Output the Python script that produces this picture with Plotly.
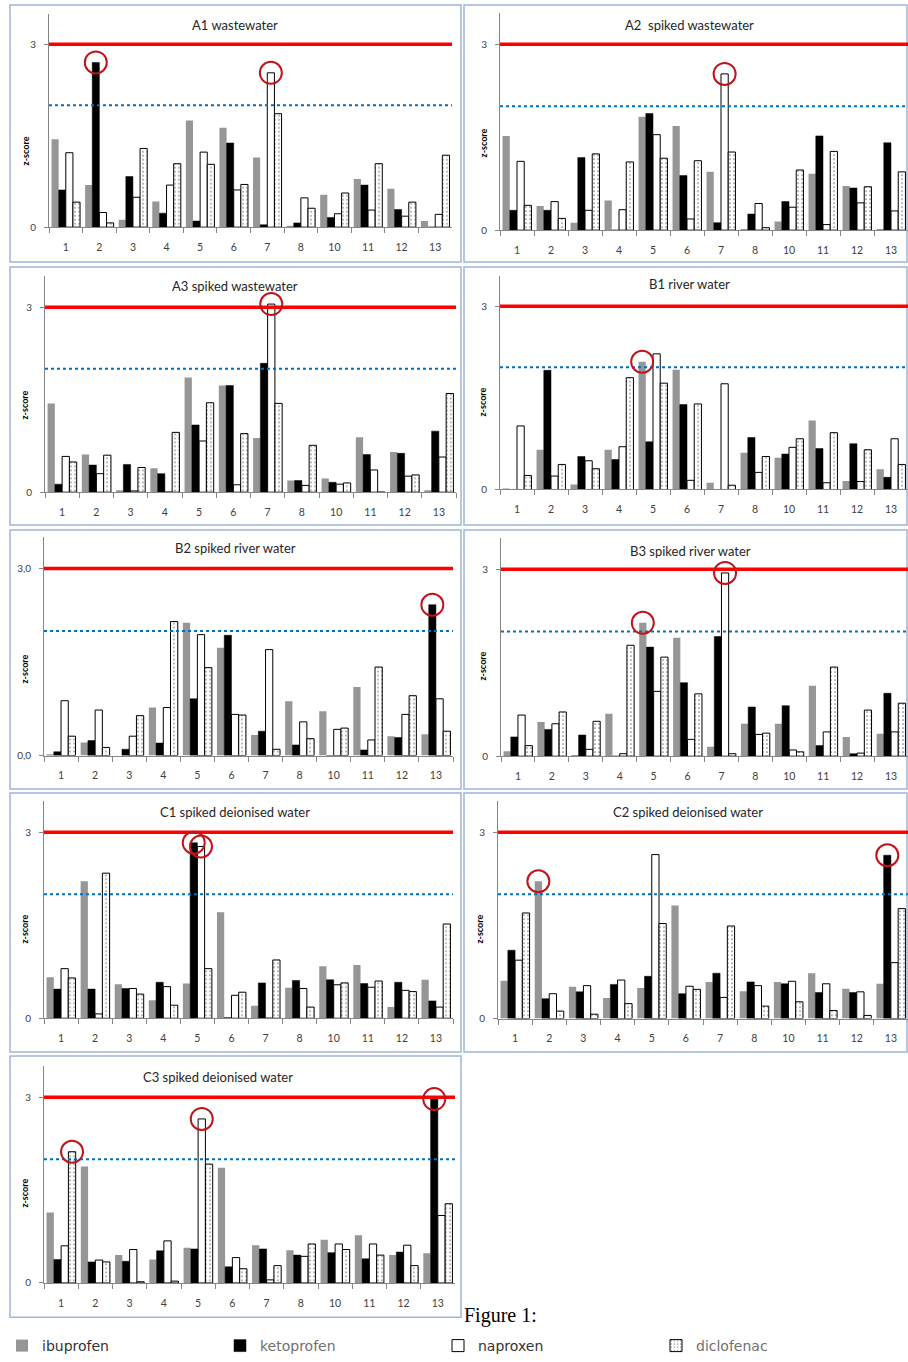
import plotly.graph_objects as go

W, H = 908, 1362

categories = ["1", "2", "3", "4", "5", "6", "7", "8", "10", "11", "12", "13"]
series = ["ibuprofen", "ketoprofen", "naproxen", "diclofenac"]

A1_ibuprofen  = [1.44, 0.69, 0.12, 0.42, 1.75, 1.63, 1.14, 0.02, 0.53, 0.79, 0.63, 0.10]
A1_ketoprofen = [0.61, 2.70, 0.83, 0.23, 0.10, 1.38, 0.04, 0.07, 0.16, 0.69, 0.29, 0.00]
A1_naproxen   = [1.22, 0.24, 0.49, 0.69, 1.23, 0.61, 2.53, 0.48, 0.22, 0.28, 0.18, 0.21]
A1_diclofenac = [0.41, 0.07, 1.29, 1.04, 1.03, 0.70, 1.86, 0.31, 0.56, 1.04, 0.41, 1.18]

A2_ibuprofen  = [1.52, 0.39, 0.12, 0.48, 1.83, 1.68, 0.94, 0.02, 0.14, 0.91, 0.71, 0.02]
A2_ketoprofen = [0.32, 0.32, 1.17, 0.00, 1.88, 0.88, 0.12, 0.26, 0.46, 1.52, 0.68, 1.41]
A2_naproxen   = [1.11, 0.46, 0.32, 0.33, 1.54, 0.18, 2.52, 0.43, 0.37, 0.09, 0.44, 0.31]
A2_diclofenac = [0.40, 0.19, 1.23, 1.10, 1.16, 1.12, 1.26, 0.04, 0.97, 1.27, 0.70, 0.94]

A3_ibuprofen  = [1.44, 0.61, 0.03, 0.39, 1.86, 1.73, 0.88, 0.19, 0.22, 0.89, 0.65, 0.02]
A3_ketoprofen = [0.13, 0.44, 0.45, 0.30, 1.09, 1.73, 2.09, 0.19, 0.16, 0.61, 0.63, 0.99]
A3_naproxen   = [0.58, 0.30, 0.02, 0.00, 0.83, 0.12, 3.05, 0.11, 0.13, 0.36, 0.26, 0.57]
A3_diclofenac = [0.49, 0.60, 0.40, 0.97, 1.45, 0.95, 1.44, 0.76, 0.15, 0.00, 0.28, 1.60]

B1_ibuprofen  = [0.01, 0.65, 0.08, 0.65, 2.09, 1.96, 0.11, 0.60, 0.52, 1.13, 0.14, 0.33]
B1_ketoprofen = [0.00, 1.95, 0.54, 0.49, 0.78, 1.39, 0.00, 0.85, 0.58, 0.67, 0.75, 0.20]
B1_naproxen   = [1.04, 0.22, 0.47, 0.70, 2.22, 0.15, 1.73, 0.28, 0.69, 0.11, 0.13, 0.83]
B1_diclofenac = [0.23, 0.41, 0.34, 1.83, 1.74, 1.40, 0.07, 0.54, 0.83, 0.93, 0.65, 0.41]

B2_ibuprofen  = [0.02, 0.21, 0.00, 0.77, 2.13, 1.73, 0.33, 0.87, 0.71, 1.10, 0.31, 0.34]
B2_ketoprofen = [0.06, 0.24, 0.10, 0.20, 0.91, 1.93, 0.39, 0.17, 0.00, 0.09, 0.29, 2.42]
B2_naproxen   = [0.88, 0.73, 0.31, 0.77, 1.94, 0.66, 1.70, 0.54, 0.42, 0.25, 0.66, 0.91]
B2_diclofenac = [0.31, 0.13, 0.64, 2.15, 1.41, 0.65, 0.10, 0.27, 0.44, 1.42, 0.96, 0.39]

B3_ibuprofen  = [0.08, 0.55, 0.02, 0.68, 2.14, 1.90, 0.15, 0.52, 0.52, 1.13, 0.31, 0.36]
B3_ketoprofen = [0.31, 0.43, 0.34, 0.00, 1.75, 1.18, 1.92, 0.79, 0.81, 0.17, 0.04, 1.01]
B3_naproxen   = [0.66, 0.52, 0.11, 0.04, 1.04, 0.27, 2.94, 0.35, 0.10, 0.39, 0.05, 0.39]
B3_diclofenac = [0.17, 0.71, 0.56, 1.78, 1.59, 1.00, 0.04, 0.37, 0.07, 1.43, 0.74, 0.85]

C1_ibuprofen  = [0.66, 2.21, 0.55, 0.29, 0.56, 1.71, 0.20, 0.49, 0.84, 0.86, 0.18, 0.62]
C1_ketoprofen = [0.47, 0.47, 0.48, 0.58, 2.83, 0.01, 0.57, 0.61, 0.62, 0.56, 0.58, 0.28]
C1_naproxen   = [0.80, 0.07, 0.48, 0.51, 2.77, 0.37, 0.00, 0.48, 0.54, 0.50, 0.45, 0.18]
C1_diclofenac = [0.65, 2.34, 0.39, 0.21, 0.80, 0.42, 0.94, 0.18, 0.57, 0.60, 0.43, 1.52]

C2_ibuprofen  = [0.61, 2.21, 0.51, 0.33, 0.49, 1.82, 0.59, 0.44, 0.59, 0.73, 0.48, 0.56]
C2_ketoprofen = [1.10, 0.32, 0.43, 0.55, 0.68, 0.40, 0.73, 0.59, 0.56, 0.42, 0.42, 2.63]
C2_naproxen   = [0.94, 0.40, 0.53, 0.62, 2.64, 0.52, 0.34, 0.53, 0.60, 0.56, 0.43, 0.90]
C2_diclofenac = [1.70, 0.12, 0.07, 0.24, 1.53, 0.47, 1.49, 0.20, 0.27, 0.13, 0.05, 1.77]

C3_ibuprofen  = [1.14, 1.88, 0.45, 0.38, 0.57, 1.86, 0.61, 0.53, 0.70, 0.77, 0.45, 0.48]
C3_ketoprofen = [0.38, 0.34, 0.35, 0.52, 0.55, 0.26, 0.55, 0.45, 0.49, 0.39, 0.50, 2.97]
C3_naproxen   = [0.60, 0.37, 0.54, 0.68, 2.65, 0.41, 0.05, 0.43, 0.63, 0.63, 0.61, 1.09]
C3_diclofenac = [2.12, 0.34, 0.02, 0.03, 1.92, 0.23, 0.28, 0.63, 0.54, 0.45, 0.28, 1.28]

panel_titles = {
    "A1": "A1 wastewater", "A2": "A2  spiked wastewater", "A3": "A3 spiked wastewater",
    "B1": "B1 river water", "B2": "B2 spiked river water", "B3": "B3 spiked river water",
    "C1": "C1 spiked deionised water", "C2": "C2 spiked deionised water",
    "C3": "C3 spiked deionised water",
}
y_ticktext = {"B2": ["0,0", "3,0"]}
action_limit = 3
warning_limit = 2

highlights = {
    "A1": [("2", "ketoprofen"), ("7", "naproxen")],
    "A2": [("7", "naproxen")],
    "A3": [("7", "naproxen")],
    "B1": [("5", "ibuprofen")],
    "B2": [("13", "ketoprofen")],
    "B3": [("5", "ibuprofen"), ("7", "naproxen")],
    "C1": [("5", "ketoprofen"), ("5", "naproxen")],
    "C2": [("2", "ibuprofen"), ("13", "ketoprofen")],
    "C3": [("1", "diclofenac"), ("5", "naproxen"), ("13", "ketoprofen")],
}

panel_data = {
    "A1": [A1_ibuprofen, A1_ketoprofen, A1_naproxen, A1_diclofenac],
    "A2": [A2_ibuprofen, A2_ketoprofen, A2_naproxen, A2_diclofenac],
    "A3": [A3_ibuprofen, A3_ketoprofen, A3_naproxen, A3_diclofenac],
    "B1": [B1_ibuprofen, B1_ketoprofen, B1_naproxen, B1_diclofenac],
    "B2": [B2_ibuprofen, B2_ketoprofen, B2_naproxen, B2_diclofenac],
    "B3": [B3_ibuprofen, B3_ketoprofen, B3_naproxen, B3_diclofenac],
    "C1": [C1_ibuprofen, C1_ketoprofen, C1_naproxen, C1_diclofenac],
    "C2": [C2_ibuprofen, C2_ketoprofen, C2_naproxen, C2_diclofenac],
    "C3": [C3_ibuprofen, C3_ketoprofen, C3_naproxen, C3_diclofenac],
}

# ---- layout geometry (pixels) ----
# box: panel frame (l, t, r, b); plot: (x0, x1, y_at_0, y_at_3); title (x, y); zlab (x, y)
frames = {
    "A1": dict(box=(10, 5, 461, 263), plot=(49, 452, 228, 44.3), title=(235, 25), zlab=(25, 152)),
    "A2": dict(box=(464, 5, 907, 263), plot=(500, 908, 231, 44.3), title=(689, 25), zlab=(483, 144)),
    "A3": dict(box=(10, 268, 461, 527), plot=(45, 456, 494, 308.3), title=(235, 287), zlab=(25, 407)),
    "B1": dict(box=(464, 268, 907, 527), plot=(500, 908, 491.3, 307.3), title=(689, 285), zlab=(483, 404)),
    "B2": dict(box=(10, 532, 461, 792), plot=(44, 453, 758.3, 570.7), title=(235, 550), zlab=(25, 672)),
    "B3": dict(box=(464, 532, 907, 792), plot=(501, 908, 759, 571.3), title=(690, 553), zlab=(483, 669)),
    "C1": dict(box=(10, 796, 461, 1056), plot=(44, 453, 1022, 835.3), title=(235, 815), zlab=(25, 933)),
    "C2": dict(box=(464, 796, 907, 1056), plot=(498, 908, 1022.3, 835.3), title=(688, 815), zlab=(480, 933)),
    "C3": dict(box=(10, 1060, 461, 1322), plot=(44, 455, 1287.7, 1101.3), title=(218, 1081), zlab=(25, 1198)),
}
Y_MAX = 3.5
BARGAP = 0.15

styles = {
    "ibuprofen": dict(color="#969696", line=dict(color="#969696", width=0)),
    "ketoprofen": dict(color="#000000", line=dict(color="#000000", width=0.5)),
    "naproxen": dict(color="#ffffff", line=dict(color="#000000", width=1)),
    "diclofenac": dict(color="#ffffff", line=dict(color="#000000", width=1),
                       pattern=dict(shape=".", fgcolor="#000000", bgcolor="#ffffff",
                                    size=4, solidity=0.15)),
}
legend_names = {
    "ibuprofen": "ibuprofen",
    "ketoprofen": "<span style='color:#707070'>ketoprofen</span>",
    "naproxen": "naproxen",
    "diclofenac": "<span style='color:#707070'>diclofenac</span>",
}

def px_x(x):
    return x / W

def px_y(y):
    return 1 - y / H

fig = go.Figure()
shapes = []
annotations = []
layout_axes = {}

for i, key in enumerate(panel_data):
    n = i + 1
    xa = "x" if n == 1 else f"x{n}"
    ya = "y" if n == 1 else f"y{n}"
    fr = frames[key]
    x0, x1, y0, y3 = fr["plot"]
    ppu = (y0 - y3) / 3.0
    ytop = y0 - Y_MAX * ppu

    for s, vals in zip(series, panel_data[key]):
        fig.add_trace(go.Bar(
            x=categories, y=vals, name=legend_names[s], legendgroup=s,
            showlegend=(n == 1), marker=styles[s], xaxis=xa, yaxis=ya,
            offsetgroup=s,
        ))

    layout_axes["xaxis" if n == 1 else f"xaxis{n}"] = dict(
        domain=[px_x(x0), px_x(x1)], anchor=ya, type="category",
        categoryorder="array", categoryarray=categories,
        showline=True, linecolor="#868686", linewidth=1,
        ticks="outside", tickson="boundaries", ticklen=5, tickcolor="#868686",
        tickfont=dict(family="Lato", size=10.5, color="#404040"),
        ticklabelstandoff=10, showgrid=False, zeroline=False, fixedrange=True,
    )
    layout_axes["yaxis" if n == 1 else f"yaxis{n}"] = dict(
        domain=[px_y(y0), px_y(ytop)], anchor=xa, range=[0, Y_MAX],
        tickvals=[0, 3], ticktext=y_ticktext.get(key, ["0", "3"]),
        showline=True, linecolor="#868686", linewidth=1,
        ticks="outside", ticklen=4, tickcolor="#868686",
        tickfont=dict(family="Lato", size=10, color="#404040"),
        ticklabelstandoff=6,
        showgrid=False, zeroline=False, fixedrange=True,
    )

    # panel frame
    bl, bt, br, bb = fr["box"]
    shapes.append(dict(type="rect", xref="paper", yref="paper",
                       x0=px_x(bl), x1=px_x(br), y0=px_y(bb), y1=px_y(bt),
                       line=dict(color="#9fb6d8", width=1.5), layer="below"))
    # limit lines
    shapes.append(dict(type="line", xref=f"{xa} domain", yref=ya, x0=0, x1=1,
                       y0=warning_limit, y1=warning_limit,
                       line=dict(color="#0070C0", width=2, dash="dot"), layer="above"))
    shapes.append(dict(type="line", xref=f"{xa} domain", yref=ya, x0=0, x1=1,
                       y0=action_limit, y1=action_limit,
                       line=dict(color="#FF0000", width=3.5), layer="above"))
    # circles around bars of concern
    bw = (1 - BARGAP) / len(series)
    for cat, s in highlights[key]:
        ci = categories.index(cat)
        si = series.index(s)
        val = panel_data[key][si][ci]
        xc = ci - (1 - BARGAP) / 2 + (si + 0.5) * bw
        shapes.append(dict(type="circle", xref=xa, yref=ya,
                           xsizemode="pixel", ysizemode="pixel",
                           xanchor=xc, yanchor=val, x0=-11, x1=11, y0=-11, y1=11,
                           line=dict(color="#C0141A", width=2), layer="above"))
    # title and z-score label
    tx, ty = fr["title"]
    annotations.append(dict(text=panel_titles[key], xref="paper", yref="paper",
                            x=px_x(tx), y=px_y(ty), xanchor="center", yanchor="middle",
                            showarrow=False, font=dict(family="Lato", size=13, color="#262626")))
    zx, zy = fr["zlab"]
    annotations.append(dict(text="<b>z-score</b>", xref="paper", yref="paper",
                            x=px_x(zx), y=px_y(zy), xanchor="center", yanchor="middle",
                            textangle=-90, showarrow=False,
                            font=dict(family="Lato", size=9, color="#000000")))

annotations.append(dict(text="Figure 1:", xref="paper", yref="paper",
                        x=px_x(462), y=px_y(1320), xanchor="left", yanchor="middle",
                        showarrow=False,
                        font=dict(family="Liberation Serif", size=20, color="#000000")))

fig.update_layout(
    width=W, height=H, autosize=False,
    margin=dict(l=0, r=0, t=0, b=0),
    paper_bgcolor="white", plot_bgcolor="white",
    barmode="group", bargap=BARGAP, bargroupgap=0,
    shapes=shapes, annotations=annotations,
    showlegend=True,
    legend=dict(orientation="h", x=px_x(2), y=px_y(1351), xanchor="left", yanchor="middle",
                entrywidth=173, entrywidthmode="pixels", traceorder="normal",
                font=dict(family="DejaVu Sans", size=14, color="#333333"),
                bgcolor="rgba(0,0,0,0)"),
    **layout_axes,
)

fig.write_html("out.html", config={"displayModeBar": False},
               post_script="document.body.style.margin='0px';")
